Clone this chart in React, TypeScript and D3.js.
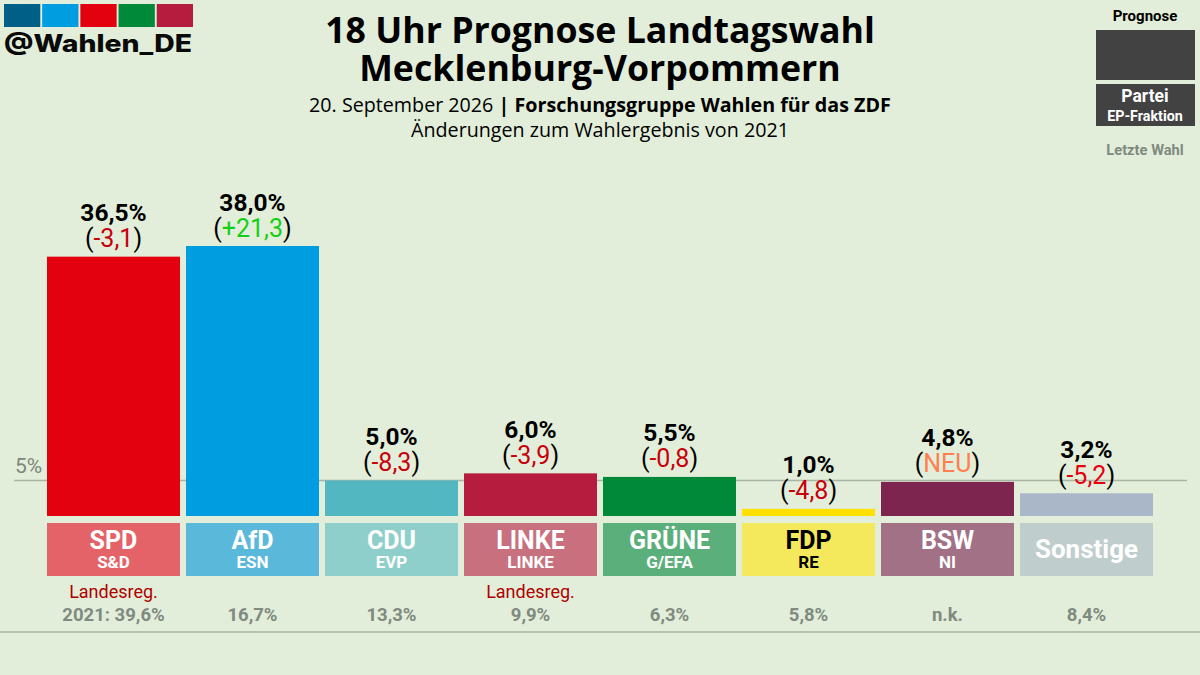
import * as d3 from 'd3';

const parties = ['SPD', 'AfD', 'CDU', 'LINKE', 'GRÜNE', 'FDP', 'BSW', 'Sonstige'];
const fractions = ['S&D', 'ESN', 'EVP', 'LINKE', 'G/EFA', 'RE', 'NI', ''];
const values = [36.5, 38.0, 5.0, 6.0, 5.5, 1.0, 4.8, 3.2];
const valueLabels = ['36,5%', '38,0%', '5,0%', '6,0%', '5,5%', '1,0%', '4,8%', '3,2%'];
const changes = ['-3,1', '+21,3', '-8,3', '-3,9', '-0,8', '-4,8', 'NEU', '-5,2'];
const changeColors = ['#c8000c', '#14d014', '#c8000c', '#c8000c', '#c8000c', '#c8000c', '#ff7f50', '#e6000f'];
const lastVote = ['2021: 39,6%', '16,7%', '13,3%', '9,9%', '6,3%', '5,8%', 'n.k.', '8,4%'];
const government = ['SPD', 'LINKE'];
const barColors = ['#e3000f', '#009ee0', '#52b7c1', '#b61c3e', '#008939', '#ffe000', '#7d254f', '#aab7c9'];
const boxColors = ['#e46368', '#5ab8db', '#8ecfcb', '#c9707f', '#5baf7b', '#f4e85c', '#a27186', '#bfcdcd'];
const logoColors = ['#005f87', '#009ee0', '#e3000f', '#008939', '#b61c3e'];

const width = 1200;
const height = 675;
const roboto = 'Roboto, sans-serif';
const openSans = '"Open Sans", sans-serif';

export default function App() {
  const x = d3.scaleBand<string>().domain(parties).range([47, 1153]).paddingInner(6 / 139);
  const y = d3.scaleLinear().domain([0, 38]).range([516, 246]);
  const logoX = d3.scaleBand<string>().domain(logoColors).range([4, 193]).paddingInner(0.05);
  const cx = (p: string) => (x(p) as number) + x.bandwidth() / 2;

  return (
    <svg
      width={width}
      height={height}
      style={{ position: 'absolute', left: 0, top: 0, display: 'block' }}
    >
      <rect width={width} height={height} fill="#e2eed9" />

      {/* logo */}
      {logoColors.map((c) => (
        <rect key={c} x={logoX(c)} y={4} width={logoX.bandwidth()} height={23} fill={c} />
      ))}
      <text x={4} y={52} fontFamily="Inter, sans-serif" fontWeight={800} fontSize={24} textLength={188} lengthAdjust="spacingAndGlyphs" fill="#0a0a0a">
        @Wahlen_DE
      </text>

      {/* title */}
      <g textAnchor="middle" fontFamily={openSans} fill="#000">
        <text x={600} y={43} fontSize={35.7} fontWeight={700}>18 Uhr Prognose Landtagswahl</text>
        <text x={600} y={81} fontSize={35.7} fontWeight={700}>Mecklenburg-Vorpommern</text>
        <text x={600} y={112} fontSize={19.7}>
          20. September 2026 <tspan fontWeight={700}>| Forschungsgruppe Wahlen für das ZDF</tspan>
        </text>
        <text x={600} y={137} fontSize={19.7}>Änderungen zum Wahlergebnis von 2021</text>
      </g>

      {/* legend */}
      <g textAnchor="middle" fontFamily={roboto}>
        <text x={1145} y={21} fontSize={15} fontWeight={700} fill="#000">Prognose</text>
        <rect x={1096} y={30} width={99} height={50} fill="#424242" />
        <rect x={1096} y={84} width={99} height={42} fill="#424242" />
        <text x={1145} y={102} fontSize={17.5} fontWeight={700} fill="#fff">Partei</text>
        <text x={1145} y={121} fontSize={14.3} fontWeight={700} fill="#fff">EP-Fraktion</text>
        <text x={1145} y={155} fontSize={14.7} fontWeight={700} fill="#7f8a80">Letzte Wahl</text>
      </g>

      {/* 5% line */}
      <line x1={14} x2={1187} y1={y(5)} y2={y(5)} stroke="#a9b5a5" strokeWidth={1.5} />
      <text x={15} y={473} fontFamily={roboto} fontSize={21} fill="#7c877b">5%</text>

      {parties.map((p, i) => (
        <g key={p} textAnchor="middle" fontFamily={roboto}>
          <rect x={x(p)} y={y(values[i])} width={x.bandwidth()} height={y(0) - y(values[i])} fill={barColors[i]} />
          <text x={cx(p)} y={y(values[i]) - 35.5} fontSize={24.5} fontWeight={700} fill="#000">{valueLabels[i]}</text>
          <text x={cx(p)} y={y(values[i]) - 9.5} fontSize={25} fill="#000">
            (<tspan fill={changeColors[i]}>{changes[i]}</tspan>)
          </text>

          <rect x={x(p)} y={523} width={x.bandwidth()} height={53} fill={boxColors[i]} />
          {fractions[i] ? (
            <>
              <text x={cx(p)} y={549} fontSize={25} fontWeight={700} fill={p === 'FDP' ? '#000' : '#fff'}>{p}</text>
              <text x={cx(p)} y={568} fontSize={17} fontWeight={700} fill={p === 'FDP' ? '#000' : '#fff'}>{fractions[i]}</text>
            </>
          ) : (
            <text x={cx(p)} y={558} fontSize={26} fontWeight={700} fill="#fff">{p}</text>
          )}

          {government.includes(p) && (
            <text x={cx(p)} y={598} fontSize={18} fill="#b00000">Landesreg.</text>
          )}
          <text x={cx(p)} y={621} fontSize={18.5} fontWeight={700} fill="#7f8a80">{lastVote[i]}</text>
        </g>
      ))}

      <line x1={0} x2={width} y1={632} y2={632} stroke="#a9b2a3" strokeWidth={1.5} />
    </svg>
  );
}
